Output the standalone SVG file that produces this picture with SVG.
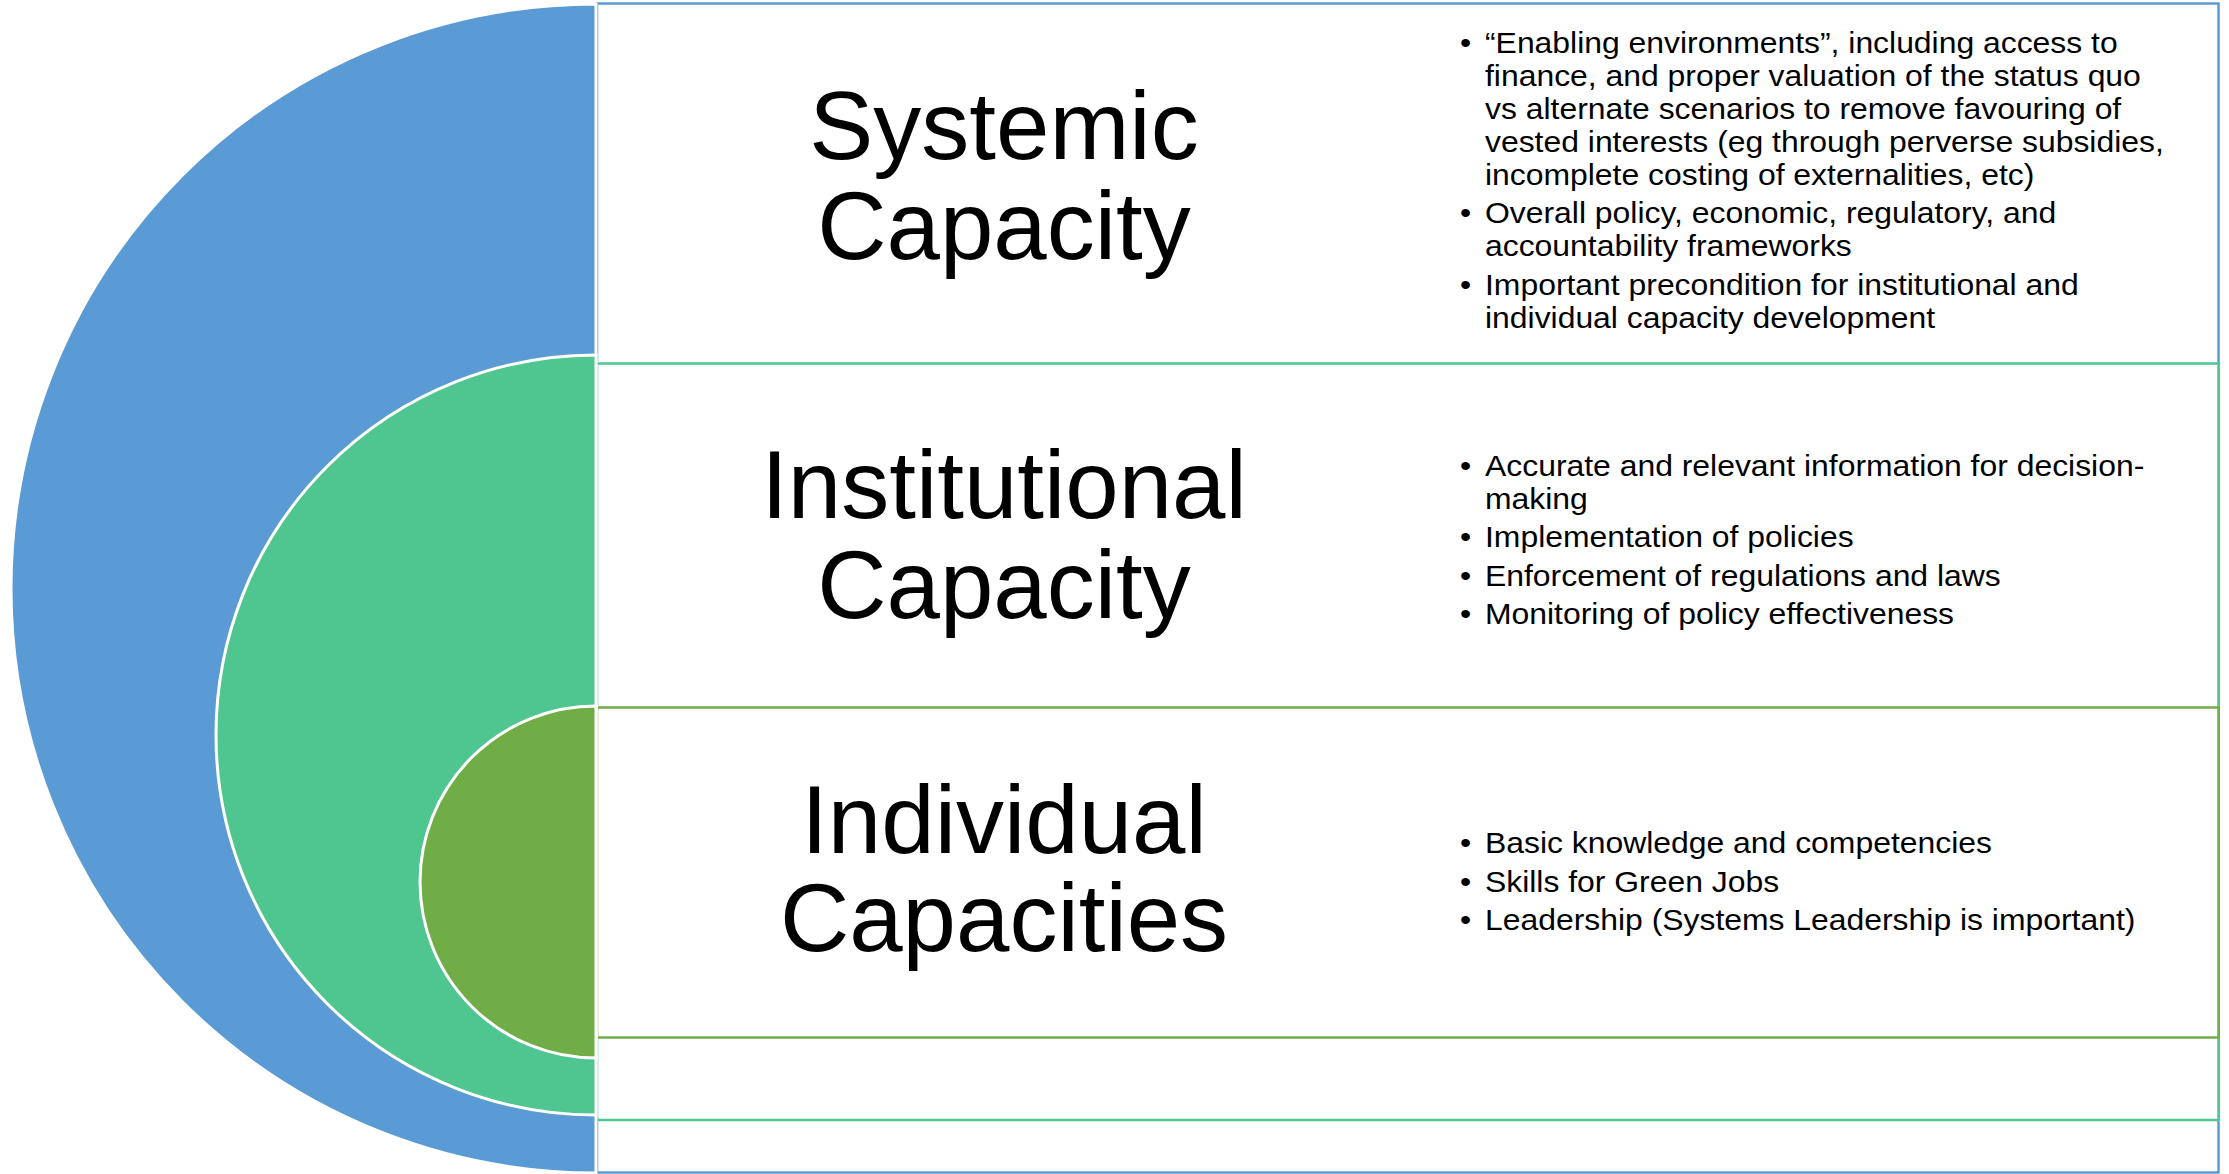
<svg xmlns="http://www.w3.org/2000/svg" width="2229" height="1174" viewBox="0 0 2229 1174">
<style>
.title{font-family:"Liberation Sans",Arial,sans-serif;font-size:96px;fill:#000;text-anchor:middle}
.bul{font-family:"Liberation Sans",Arial,sans-serif;font-size:29px;fill:#000}
.box{fill:#fff;stroke-width:2.5}
.arc{stroke:#fff;stroke-width:3}
</style>
<rect width="2229" height="1174" fill="#fff"/>
<g id="systemic">
<rect class="box" x="597" y="3.5" width="1621.5" height="1169" stroke="#5B9BD5"/>
</g>
<g id="institutional">
<rect class="box" x="597" y="363.5" width="1621.5" height="756.5" stroke="#4FC58F"/>
</g>
<g id="individual">
<rect class="box" x="597" y="707.5" width="1621.5" height="330" stroke="#70AD47"/>
</g>
<g id="shapes">
<path class="arc" d="M596,4 A585,584.5 0 0 0 596,1173 Z" fill="#5B9BD5"/>
<path class="arc" d="M596,355 A380,380 0 0 0 596,1115 Z" fill="#4FC58F"/>
<path class="arc" d="M596,706 A176,176 0 0 0 596,1058 Z" fill="#70AD47"/>
</g>
<g id="systemic-text">
<text class="title" x="1004" y="159">Systemic</text>
<text class="title" x="1004" y="259">Capacity</text>
<g transform="translate(1485,0) scale(1.1,1)">
<text class="bul" x="-22.7" y="53">•</text>
<text class="bul" x="0" y="53">“Enabling environments”, including access to</text>
<text class="bul" x="0" y="86">finance, and proper valuation of the status quo</text>
<text class="bul" x="0" y="119">vs alternate scenarios to remove favouring of</text>
<text class="bul" x="0" y="152">vested interests (eg through perverse subsidies,</text>
<text class="bul" x="0" y="185">incomplete costing of externalities, etc)</text>
<text class="bul" x="-22.7" y="223">•</text>
<text class="bul" x="0" y="223">Overall policy, economic, regulatory, and</text>
<text class="bul" x="0" y="256">accountability frameworks</text>
<text class="bul" x="-22.7" y="295">•</text>
<text class="bul" x="0" y="295">Important precondition for institutional and</text>
<text class="bul" x="0" y="328">individual capacity development</text>
</g>
</g>
<g id="institutional-text">
<text class="title" x="1004" y="518">Institutional</text>
<text class="title" x="1004" y="618">Capacity</text>
<g transform="translate(1485,0) scale(1.1,1)">
<text class="bul" x="-22.7" y="476">•</text>
<text class="bul" x="0" y="476">Accurate and relevant information for decision-</text>
<text class="bul" x="0" y="509">making</text>
<text class="bul" x="-22.7" y="547">•</text>
<text class="bul" x="0" y="547">Implementation of policies</text>
<text class="bul" x="-22.7" y="586">•</text>
<text class="bul" x="0" y="586">Enforcement of regulations and laws</text>
<text class="bul" x="-22.7" y="624">•</text>
<text class="bul" x="0" y="624">Monitoring of policy effectiveness</text>
</g>
</g>
<g id="individual-text">
<text class="title" x="1004" y="853">Individual</text>
<text class="title" x="1004" y="951">Capacities</text>
<g transform="translate(1485,0) scale(1.1,1)">
<text class="bul" x="-22.7" y="853">•</text>
<text class="bul" x="0" y="853">Basic knowledge and competencies</text>
<text class="bul" x="-22.7" y="892">•</text>
<text class="bul" x="0" y="892">Skills for Green Jobs</text>
<text class="bul" x="-22.7" y="930">•</text>
<text class="bul" x="0" y="930">Leadership (Systems Leadership is important)</text>
</g>
</g>
<g id="connectors"></g>
</svg>
